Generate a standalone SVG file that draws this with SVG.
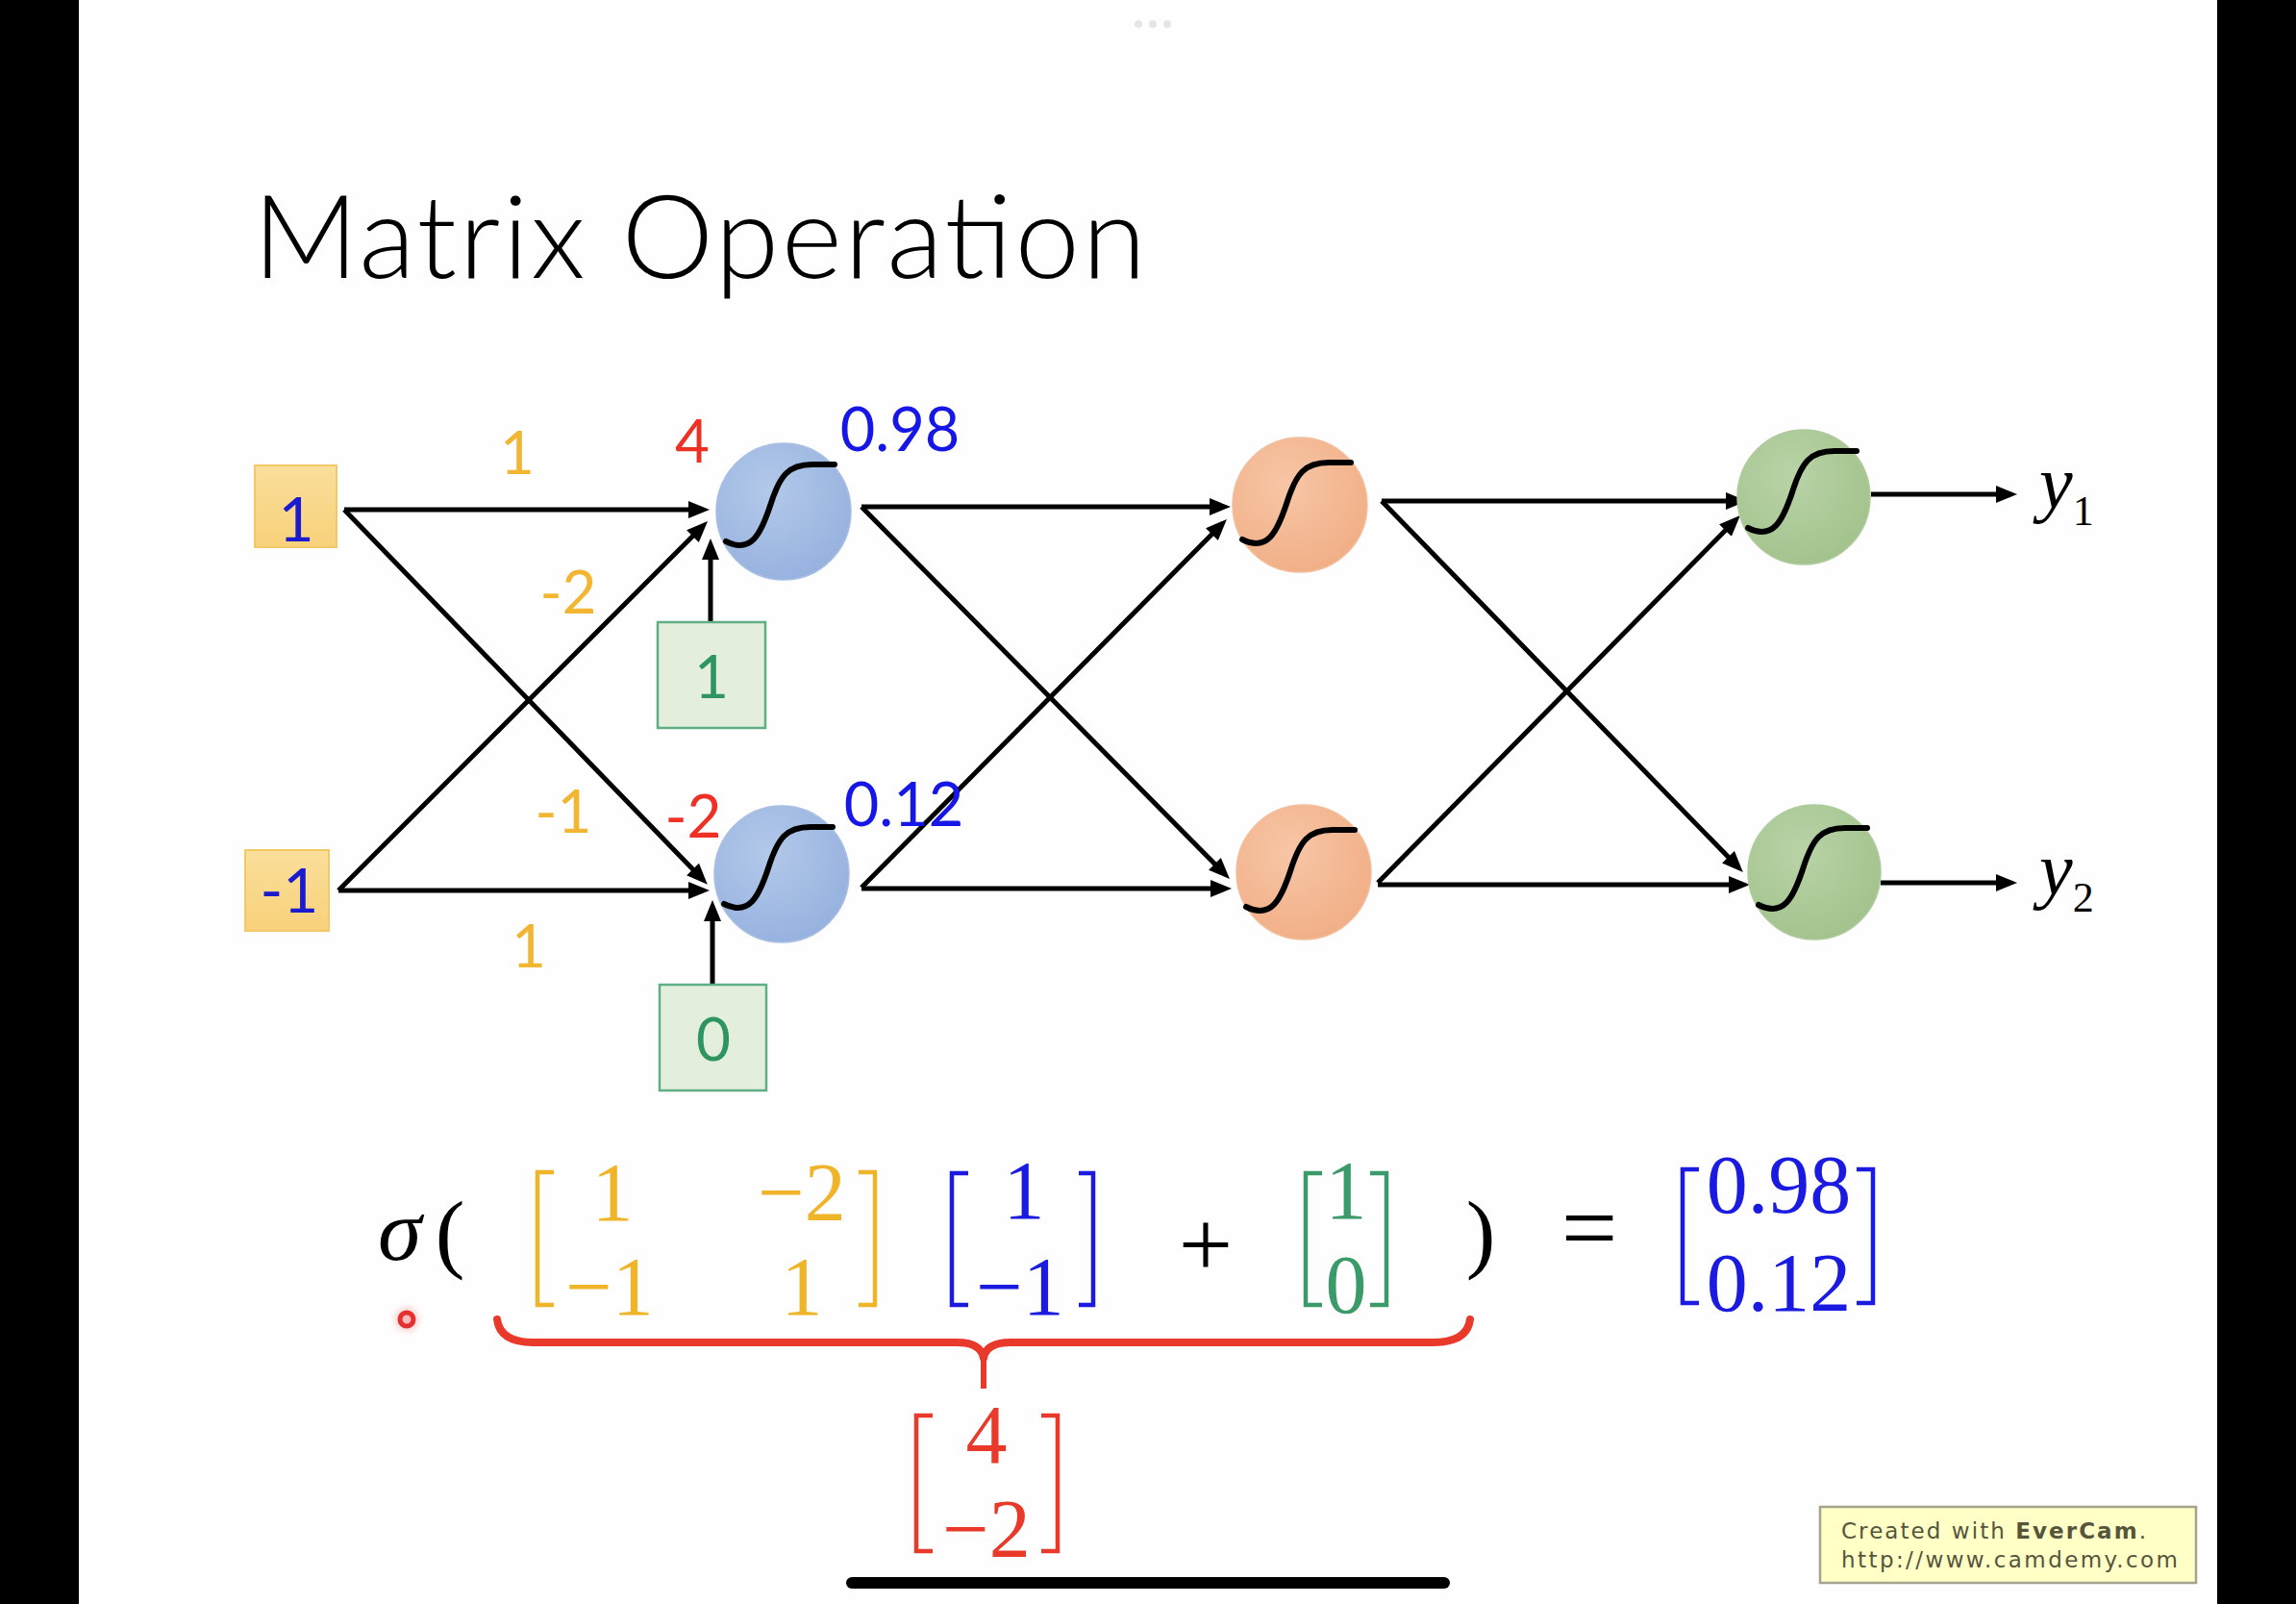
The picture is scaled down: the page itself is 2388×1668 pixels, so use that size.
<svg xmlns="http://www.w3.org/2000/svg" xmlns:xlink="http://www.w3.org/1999/xlink" width="2388" height="1668" viewBox="0 0 2388 1668">
<defs>
<style>
.lbl{font-family:Lato,"Liberation Sans",sans-serif;text-anchor:middle}
.w{fill:#F2B632;font-size:62px}
.r{fill:#EE3124;font-size:62px}
.b{fill:#1616E6;font-size:63px}
.m{font-family:"Liberation Serif",serif;font-size:86px;text-anchor:middle}
.edge{stroke:#000;stroke-width:5;fill:none;marker-end:url(#ah)}
.brk{fill:none;stroke-width:4.5;stroke-linejoin:miter}
.sig{fill:none;stroke:#000;stroke-width:6;stroke-linecap:round}
</style>
<marker id="ah" viewBox="0 0 22 18" refX="5" refY="9" markerWidth="22" markerHeight="18" markerUnits="userSpaceOnUse" orient="auto">
<path d="M0,0 L22,9 L0,18 z" fill="#000"/>
</marker>
<radialGradient id="gb" cx="0.4" cy="0.35" r="0.7"><stop offset="0" stop-color="#B3C9EA"/><stop offset="1" stop-color="#95B1DE"/></radialGradient>
<radialGradient id="go" cx="0.4" cy="0.35" r="0.7"><stop offset="0" stop-color="#F7C6A6"/><stop offset="1" stop-color="#F1AE85"/></radialGradient>
<radialGradient id="gg" cx="0.4" cy="0.35" r="0.7"><stop offset="0" stop-color="#B9D3A7"/><stop offset="1" stop-color="#A2C28C"/></radialGradient>
<linearGradient id="gy" x1="0" y1="0" x2="0" y2="1"><stop offset="0" stop-color="#FADF9C"/><stop offset="1" stop-color="#F8D17A"/></linearGradient>
<radialGradient id="gdot" cx="0.5" cy="0.5" r="0.5"><stop offset="0.3" stop-color="#F6A0A0" stop-opacity="0.7"/><stop offset="1" stop-color="#FFFFFF" stop-opacity="0"/></radialGradient>
<path id="sg" class="sig" d="M -60 31 C -34 44, -24 24, -14 -6 C -4 -38, 5 -49, 30 -49 L 53 -49"/>
</defs>

<rect x="0" y="0" width="2388" height="1668" fill="#FEFEFE"/>
<rect x="0" y="0" width="82" height="1668" fill="#000"/>
<rect x="2306" y="0" width="82" height="1668" fill="#000"/>
<g fill="#E6E6E6"><circle cx="1184" cy="25" r="4"/><circle cx="1199" cy="25" r="4"/><circle cx="1214" cy="25" r="4"/></g>

<text x="263" y="289" font-family="Lato,'Liberation Sans',sans-serif" font-weight="300" font-size="121" textLength="929" lengthAdjust="spacing" fill="#000">Matrix Operation</text>

<g id="connectors">
<line class="edge" x1="358" y1="530" x2="721" y2="530"/>
<line class="edge" x1="358" y1="530" x2="724" y2="907.6"/>
<line class="edge" x1="352" y1="926" x2="724" y2="554"/>
<line class="edge" x1="352" y1="926" x2="721" y2="926"/>
<line class="edge" x1="739" y1="647" x2="739" y2="577"/>
<line class="edge" x1="741" y1="1024" x2="741" y2="953"/>
<line class="edge" x1="896" y1="527" x2="1263" y2="527"/>
<line class="edge" x1="896" y1="527" x2="1267" y2="901.9"/>
<line class="edge" x1="896" y1="923" x2="1264" y2="552"/>
<line class="edge" x1="896" y1="924" x2="1264" y2="924"/>
<line class="edge" x1="1437" y1="521" x2="1800" y2="521"/>
<line class="edge" x1="1437" y1="521" x2="1801" y2="894.8"/>
<line class="edge" x1="1433" y1="918" x2="1798" y2="548"/>
<line class="edge" x1="1433" y1="920" x2="1803" y2="920"/>
<line class="edge" x1="1946" y1="514" x2="2081" y2="514"/>
<line class="edge" x1="1956" y1="918" x2="2081" y2="918"/>
</g>

<g id="x1"><rect x="265" y="484" width="85" height="85" fill="url(#gy)" stroke="#F3C867" stroke-width="2"/><text class="lbl" x="308" y="563" font-size="64" fill="#1A1AD0">1</text></g>
<g id="x2"><rect x="255" y="884" width="87" height="84" fill="url(#gy)" stroke="#F3C867" stroke-width="2"/><text class="lbl" x="301" y="949" font-size="64" fill="#1A1AD0">-1</text></g>
<g id="b1"><rect x="684" y="647" width="112" height="110" fill="#E3EFDC" stroke="#5FAE86" stroke-width="2.5"/><text class="lbl" x="740" y="726" font-size="62" fill="#2E9460">1</text></g>
<g id="b2"><rect x="686" y="1024" width="111" height="110" fill="#E3EFDC" stroke="#5FAE86" stroke-width="2.5"/><text class="lbl" x="742" y="1103" font-size="62" fill="#2E9460">0</text></g>

<g id="h11"><ellipse cx="815" cy="532" rx="70" ry="71" fill="url(#gb)" stroke="#A9BFE3" stroke-width="1.5"/><use xlink:href="#sg" x="815" y="532"/></g>
<g id="h12"><ellipse cx="813" cy="909" rx="70" ry="71" fill="url(#gb)" stroke="#A9BFE3" stroke-width="1.5"/><use xlink:href="#sg" x="813" y="909"/></g>
<g id="h21"><ellipse cx="1352" cy="525" rx="70" ry="70" fill="url(#go)" stroke="#F2BE9C" stroke-width="1.5"/><use xlink:href="#sg" x="1352" y="530"/></g>
<g id="h22"><ellipse cx="1356" cy="907" rx="70" ry="70" fill="url(#go)" stroke="#F2BE9C" stroke-width="1.5"/><use xlink:href="#sg" x="1356" y="912"/></g>
<g id="o1"><ellipse cx="1876" cy="517" rx="69" ry="70" fill="url(#gg)" stroke="#B0CB9E" stroke-width="1.5"/><use xlink:href="#sg" x="1878" y="518"/></g>
<g id="o2"><ellipse cx="1887" cy="907" rx="69" ry="70" fill="url(#gg)" stroke="#B0CB9E" stroke-width="1.5"/><use xlink:href="#sg" x="1889" y="910"/></g>

<g id="labels">
<text class="lbl w" x="538" y="493">1</text>
<text class="lbl w" x="591" y="638">-2</text>
<text class="lbl w" x="586" y="866">-1</text>
<text class="lbl w" x="550" y="1006">1</text>
<text class="lbl r" x="720" y="481">4</text>
<text class="lbl r" x="721" y="871">-2</text>
<text class="lbl b" x="936" y="469">0.98</text>
<text class="lbl b" x="940" y="859">0.12</text>
<text x="2121" y="528" font-family="'Liberation Serif',serif" font-style="italic" font-size="78" fill="#000">y<tspan font-style="normal" font-size="44" dy="18">1</tspan></text>
<text x="2121" y="930" font-family="'Liberation Serif',serif" font-style="italic" font-size="78" fill="#000">y<tspan font-style="normal" font-size="44" dy="18">2</tspan></text>
</g>

<g id="formula">
<text x="393" y="1310" font-family="'Liberation Serif',serif" font-style="italic" font-size="92" fill="#000">σ</text>
<text class="m" x="468" y="1312" style="font-size:92px" fill="#000">(</text>
<path class="brk" stroke="#F0B429" d="M 576 1219 H 559 V 1357 H 576 M 893 1219 H 910 V 1357 H 893"/>
<g fill="#F0B429"><text class="m" x="637" y="1269">1</text><text class="m" x="834" y="1269">−2</text><text class="m" x="634" y="1367">−1</text><text class="m" x="834" y="1367">1</text></g>
<path class="brk" stroke="#1A1AE0" d="M 1007 1220 H 990 V 1357 H 1007 M 1122 1220 H 1137 V 1357 H 1122"/>
<g fill="#1A1AE0"><text class="m" x="1065" y="1267">1</text><text class="m" x="1061" y="1367">−1</text></g>
<text class="m" x="1254" y="1328" style="font-size:100px" fill="#000">+</text>
<path class="brk" stroke="#3A9A6A" d="M 1375 1220 H 1358 V 1357 H 1375 M 1425 1220 H 1442 V 1357 H 1425"/>
<g fill="#3A9A6A"><text class="m" x="1400" y="1267">1</text><text class="m" x="1400" y="1365">0</text></g>
<text class="m" x="1540" y="1312" style="font-size:92px" fill="#000">)</text>
<text class="m" x="1653" y="1312" style="font-size:104px" fill="#000">=</text>
<path class="brk" stroke="#1A1AE0" d="M 1767 1216 H 1750 V 1355 H 1767 M 1931 1216 H 1948 V 1355 H 1931"/>
<g fill="#1A1AE0"><text class="m" x="1850" y="1261">0.98</text><text class="m" x="1850" y="1363">0.12</text></g>
<path fill="none" stroke="#E8392B" stroke-width="8" stroke-linecap="round" d="M 517 1372 Q 520 1396 555 1396 L 995 1396 Q 1020 1396 1023 1412 M 1023 1412 Q 1026 1396 1051 1396 L 1490 1396 Q 1526 1396 1529 1372"/>
<line x1="1023" y1="1408" x2="1023" y2="1444" stroke="#E8392B" stroke-width="6"/>
<path class="brk" stroke="#E8392B" d="M 970 1472 H 953 V 1613 H 970 M 1083 1472 H 1100 V 1613 H 1083"/>
<g fill="#E8392B"><text class="m" x="1026" y="1521">4</text><text class="m" x="1026" y="1619">−2</text></g>
<circle cx="423" cy="1372" r="20" fill="url(#gdot)"/>
<circle cx="423" cy="1372" r="7" fill="none" stroke="#E53030" stroke-width="5"/>
</g>

<g id="evercam">
<rect x="1893" y="1567" width="391" height="79" fill="#FFFFC6" stroke="#A3A38E" stroke-width="2.5"/>
<text x="1915" y="1600" font-family="'DejaVu Sans',sans-serif" font-size="23" fill="#55553C" textLength="317" lengthAdjust="spacing">Created with <tspan font-weight="bold">EverCam</tspan>.</text>
<text x="1915" y="1630" font-family="'DejaVu Sans',sans-serif" font-size="23" fill="#55553C" textLength="350" lengthAdjust="spacing">http://www.camdemy.com</text>
</g>
<rect x="880" y="1640" width="628" height="12" rx="6" fill="#000"/>
</svg>
